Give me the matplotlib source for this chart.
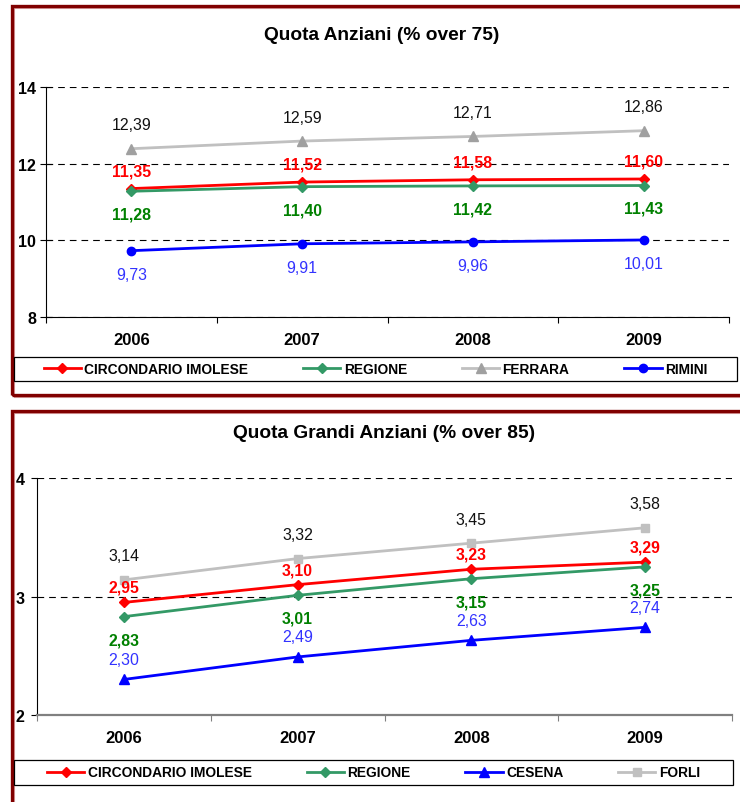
import matplotlib.pyplot as plt
from matplotlib.patches import Rectangle
from matplotlib.lines import Line2D

plt.rcParams['font.family'] = ['Liberation Sans', 'DejaVu Sans']

# dati
anni = ["2006", "2007", "2008", "2009"]

imolese_75 = [11.35, 11.52, 11.58, 11.60]
regione_75 = [11.28, 11.40, 11.42, 11.43]
ferrara_75 = [12.39, 12.59, 12.71, 12.86]
rimini_75 = [9.73, 9.91, 9.96, 10.01]

imolese_85 = [2.95, 3.10, 3.23, 3.29]
regione_85 = [2.83, 3.01, 3.15, 3.25]
cesena_85 = [2.30, 2.49, 2.63, 2.74]
forli_85 = [3.14, 3.32, 3.45, 3.58]

W, H = 740, 803
fig = plt.figure(figsize=(W / 100, H / 100), dpi=100)


def fx(x):
    return x / W


def fy(y):
    return 1 - y / H


def cornice(x0, y0, x1, y1):
    # ombra chiara e bordo rosso scuro
    fig.add_artist(Rectangle((fx(x0 + 2), fy(y1 + 2)), fx(x1 - x0), (y1 - y0) / H,
                             transform=fig.transFigure, fill=False,
                             edgecolor='#d8a0a0', linewidth=1.5))
    fig.add_artist(Rectangle((fx(x0), fy(y1)), fx(x1 - x0), (y1 - y0) / H,
                             transform=fig.transFigure, fill=False,
                             edgecolor='#800000', linewidth=2.4))


def etichetta(v):
    return f"{v:.2f}".replace(".", ",")


def pannello(box, serie, ylim, yticks, col_asse, lw_asse, ytick_dir):
    ax = fig.add_axes([fx(box[0]), fy(box[3]), fx(box[2] - box[0]), (box[3] - box[1]) / H])
    x = range(len(anni))
    for valori, st in serie:
        ax.plot(x, valori, color=st['c'], lw=2, marker=st['m'], ms=st['ms'],
                mfc=st['mc'], mec=st['mc'], zorder=3)
        for i, v in enumerate(valori):
            ax.annotate(etichetta(v), (i, v), xytext=(0, st['dy']), textcoords='offset points',
                        ha='center', va='center', fontsize=11.4, color=st['tc'],
                        fontweight=st['fw'], zorder=4)
    ax.set_xlim(-0.5, len(anni) - 0.5)
    ax.set_ylim(*ylim)
    ax.set_yticks(yticks)
    ax.set_yticklabels([str(t) for t in yticks], fontweight='bold', fontsize=11.5)
    if ytick_dir == 'inout':
        ax.tick_params(axis='y', direction='inout', length=8.5, width=0.8, pad=3)
    else:
        ax.tick_params(axis='y', direction='out', length=4, width=0.8, pad=5)
    ax.set_xticks([i - 0.5 for i in range(len(anni) + 1)])
    ax.set_xticklabels([])
    ax.set_xticks(list(x), minor=True)
    ax.set_xticklabels(anni, minor=True, fontweight='bold', fontsize=12)
    ax.tick_params(axis='x', which='major', length=4.3, width=0.8, color=col_asse)
    ax.tick_params(axis='x', which='minor', length=0, pad=11)
    ax.grid(axis='y', color='black', linestyle=(0, (6, 4.5)), linewidth=0.8)
    ax.set_axisbelow(True)
    for s in ['top', 'right']:
        ax.spines[s].set_visible(False)
    ax.spines['left'].set_linewidth(0.8)
    ax.spines['bottom'].set_color(col_asse)
    ax.spines['bottom'].set_linewidth(lw_asse)
    return ax


def legenda(box, serie, nomi):
    fig.add_artist(Rectangle((fx(box[0]), fy(box[3])), fx(box[2] - box[0]), (box[3] - box[1]) / H,
                             transform=fig.transFigure, fill=True, facecolor='white',
                             edgecolor='black', linewidth=0.9))
    maniglie = [Line2D([], [], color=st['c'], lw=2, marker=st['m'], ms=st['ms'],
                       mfc=st['mc'], mec=st['mc']) for _, st in serie]
    fig.legend(maniglie, nomi, loc='center',
               bbox_to_anchor=(fx((box[0] + box[2]) / 2), fy((box[1] + box[3]) / 2)),
               ncol=4, frameon=False, handlelength=2.7, handletextpad=0.25,
               columnspacing=4.0, prop={'weight': 'bold', 'size': 9.9})


rosso = dict(c='#ff0000', mc='#ff0000', m='D', ms=5.5, tc='#ff0000', fw='bold')
verde = dict(c='#339966', mc='#339966', m='D', ms=5.5, tc='#008000', fw='bold')
grigio_tri = dict(c='#c0c0c0', mc='#a0a0a0', m='^', ms=7.5, tc='#111111', fw='normal')
blu_cerchio = dict(c='#0000ff', mc='#0000ff', m='o', ms=6, tc='#3333ff', fw='normal')
blu_tri = dict(c='#0000ff', mc='#0000ff', m='^', ms=7.5, tc='#3333ff', fw='normal')
grigio_quad = dict(c='#c0c0c0', mc='#c0c0c0', m='s', ms=5.5, tc='#111111', fw='normal')

# grafico 1
cornice(12, 7, 760, 396)
fig.text(fx(382), fy(35), "Quota Anziani (% over 75)", ha='center', va='center',
         fontsize=13.8, fontweight='bold')
serie1 = [(ferrara_75, dict(grigio_tri, dy=17.3)),
          (imolese_75, dict(rosso, dy=13)),
          (regione_75, dict(verde, dy=-16.5)),
          (rimini_75, dict(blu_cerchio, dy=-17.3))]
pannello((46, 88, 729, 318), serie1, (8, 14), [8, 10, 12, 14], 'black', 0.8, 'inout')
legenda((14, 358, 737, 382), [serie1[1], serie1[2], serie1[0], serie1[3]],
        ["CIRCONDARIO IMOLESE", "REGIONE", "FERRARA", "RIMINI"])

# grafico 2
cornice(12, 412, 760, 830)
fig.text(fx(384), fy(433), "Quota Grandi Anziani (% over 85)", ha='center', va='center',
         fontsize=13.8, fontweight='bold')
serie2 = [(forli_85, dict(grigio_quad, dy=17.3)),
          (imolese_85, dict(rosso, dy=10.8)),
          (regione_85, dict(verde, dy=-16.5)),
          (cesena_85, dict(blu_tri, dy=14.4))]
pannello((37, 479, 732, 716), serie2, (2, 4), [2, 3, 4], '#808080', 1.6, 'out')
legenda((14, 761, 733, 786), [serie2[1], serie2[2], serie2[3], serie2[0]],
        ["CIRCONDARIO IMOLESE", "REGIONE", "CESENA", "FORLI"])

fig.savefig("out.png", dpi=100)
